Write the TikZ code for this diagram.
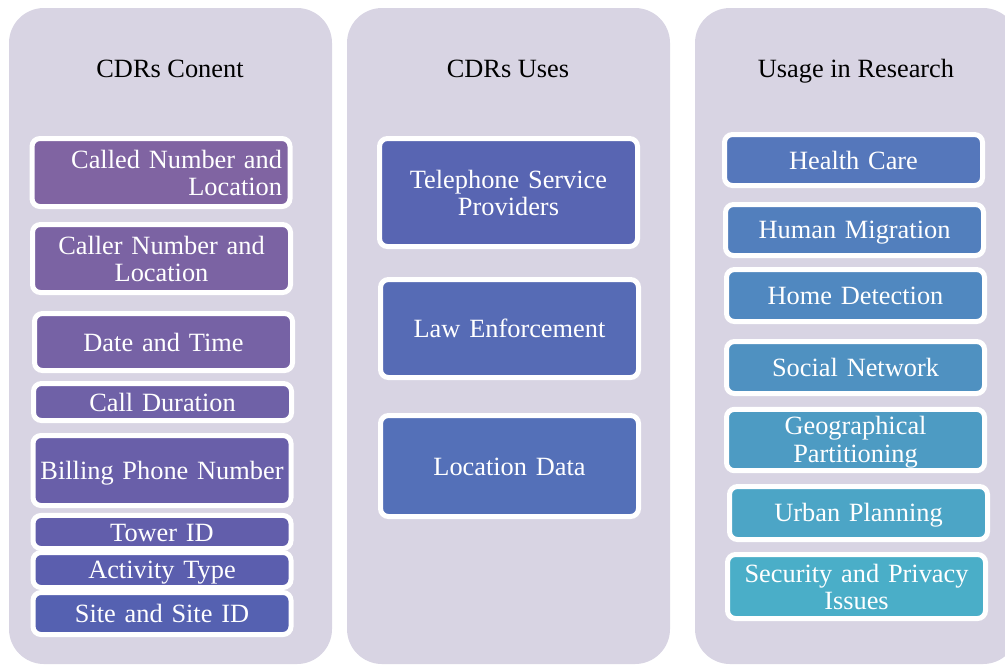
\documentclass[tikz,border=0pt]{standalone}
\usepackage{fontspec}
\setmainfont{Liberation Serif}

% Panel and box colours.
\definecolor{panelbg}{HTML}{D8D4E3}
\definecolor{calledfill}{HTML}{8064A2}
\definecolor{callerfill}{HTML}{7B63A3}
\definecolor{datefill}{HTML}{7662A5}
\definecolor{durationfill}{HTML}{6F61A7}
\definecolor{billingfill}{HTML}{695FA9}
\definecolor{towerfill}{HTML}{625EAB}
\definecolor{activityfill}{HTML}{5B5EAE}
\definecolor{sitefill}{HTML}{5561B1}
\definecolor{telfill}{HTML}{5865B2}
\definecolor{lawfill}{HTML}{566BB5}
\definecolor{locfill}{HTML}{5470B8}
\definecolor{healthfill}{HTML}{5577BB}
\definecolor{migrationfill}{HTML}{527FBD}
\definecolor{homefill}{HTML}{5088C0}
\definecolor{socialfill}{HTML}{4F91C1}
\definecolor{geofill}{HTML}{4D9BC3}
\definecolor{urbanfill}{HTML}{4CA5C6}
\definecolor{securityfill}{HTML}{4AAEC8}

% Struts that keep the box text a bit low.
\newcommand{\topstrut}{\rule{0pt}{6.45pt}}
\newcommand{\bottomstrut}{\rule[-1.25pt]{0pt}{1.25pt}}

\begin{document}
\begin{tikzpicture}
	[
		x=0.1mm, y=-0.1mm,
		panel/.style={fill=panelbg, rounded corners=3.5mm},
		title/.style={text=black, anchor=base, font=\fontsize{7.5}{8}\selectfont},
		item/.style=
		{
			draw=white,
			line width=0.5mm,
			rounded corners=0.8mm,
			text=white,
			font=\fontsize{7.5}{7.7}\selectfont,
			align=center,
			text width=25.2mm,
			minimum width=25.8mm,
			inner sep=0.3mm,
			execute at begin node=\topstrut,
			execute at end node=\bottomstrut
		}
	]
		\useasboundingbox (0,0) rectangle (1005,666);

		% Draw the three panels.
		\fill[panel] (9,8) rectangle (332,664);
		\fill[panel] (347,8) rectangle (670,664);
		\fill[panel] (695,8) rectangle (1018,664);

		% Panel titles.
		\node[title] (contentTitle) at (170,77) {CDRs Conent};
		\node[title] (usesTitle) at (508,77) {CDRs Uses};
		\node[title] (researchTitle) at (856,77) {Usage in Research};

		% Draw CDR content boxes.
		\node[item, fill=calledfill, minimum height=6.8mm, align=right, text width=24.2mm] (called) at (161,172.5) {Called Number and\\Location};
		\node[item, fill=callerfill, minimum height=6.8mm] (caller) at (161.5,258.5) {Caller Number and\\Location};
		\node[item, fill=datefill, minimum height=5.7mm] (date) at (163.5,342) {Date and Time};
		\node[item, fill=durationfill, minimum height=3.7mm] (duration) at (162.5,402) {Call Duration};
		\node[item, fill=billingfill, minimum height=7mm] (billing) at (162,470.5) {Billing Phone Number};
		\node[item, fill=towerfill, minimum height=3.1mm] (tower) at (162,532) {Tower ID};
		\node[item, fill=activityfill, minimum height=3.5mm] (activity) at (162,570) {Activity Type};
		\node[item, fill=sitefill, minimum height=4.2mm] (site) at (162,613.5) {Site and Site ID};

		% Draw CDR uses boxes.
		\node[item, fill=telfill, minimum height=10.8mm] (telephone) at (508.5,192.5) {Telephone Service\\Providers};
		\node[item, fill=lawfill, minimum height=9.8mm] (law) at (509.5,328.5) {Law Enforcement};
		\node[item, fill=locfill, minimum height=10.1mm] (location) at (509.5,466) {Location Data};

		% Draw research usage boxes.
		\node[item, fill=healthfill, minimum height=5.1mm] (health) at (853.5,160) {Health Care};
		\node[item, fill=migrationfill, minimum height=5.1mm] (migration) at (854.5,230) {Human Migration};
		\node[item, fill=homefill, minimum height=5.2mm] (home) at (855.5,295.5) {Home Detection};
		\node[item, fill=socialfill, minimum height=5.2mm] (social) at (855.5,367.5) {Social Network};
		\node[item, fill=geofill, minimum height=5.9mm] (geo) at (855.5,440) {Geographical\\Partitioning};
		\node[item, fill=urbanfill, minimum height=5.3mm] (urban) at (858.5,513) {Urban Planning};
		\node[item, fill=securityfill, minimum height=6.4mm] (security) at (856.5,586.5) {Security and Privacy\\Issues};
	\end{tikzpicture}
\end{document}
